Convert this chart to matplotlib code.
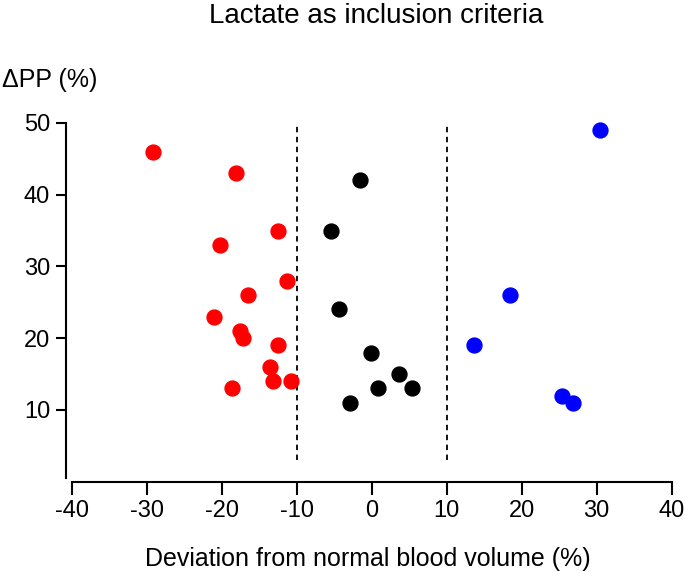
import matplotlib
matplotlib.use('Agg')
import matplotlib.pyplot as plt

plt.rcParams['font.family'] = ['Liberation Sans', 'DejaVu Sans']

# deviation from normal blood volume (%), delta PP (%)
red_x = [-29.2, -18.1, -12.5, -20.2, -11.3, -16.5, -21.0, -17.5, -17.1, -12.5, -13.5, -13.2, -10.8, -18.6]
red_y = [46, 43, 35, 33, 28, 26, 23, 21, 20, 19, 16, 14, 14, 13]

black_x = [-1.6, -5.4, -4.4, -0.1, 3.6, 0.8, 5.4, -2.9]
black_y = [42, 35, 24, 18, 15, 13, 13, 11]

blue_x = [30.5, 18.5, 13.6, 25.4, 26.8]
blue_y = [49, 26, 19, 12, 11]

cutoffs = [-10, 10]
xticks = list(range(-40, 41, 10))
yticks = [10, 20, 30, 40, 50]

fig = plt.figure(figsize=(6.85, 5.72), dpi=100)
ax = fig.add_axes([0.1045, 0.158, 0.876, 0.627])

ax.scatter(red_x, red_y, s=115, color='#ff0000', clip_on=False, zorder=3)
ax.scatter(black_x, black_y, s=115, color='black', clip_on=False, zorder=3)
ax.scatter(blue_x, blue_y, s=115, color='#0000ff', clip_on=False, zorder=3)

for c in cutoffs:
    ax.plot([c, c], [3, 50], color='black', ls=(0, (3, 2.5)), lw=1.3, zorder=2)

ax.set_xlim(-40, 40)
ax.set_ylim(0, 50)
ax.set_xticks(xticks)
ax.set_yticks(yticks)
ax.set_xticklabels([str(t) for t in xticks])

for s in ['top', 'right']:
    ax.spines[s].set_visible(False)
ax.spines['left'].set_bounds(0.5, 50)
ax.spines['left'].set_position(('outward', 4))
for s in ['left', 'bottom']:
    ax.spines[s].set_linewidth(1.5)

ax.tick_params(axis='x', length=9.5, width=1.5, labelsize=17, pad=3.5)
ax.tick_params(axis='y', length=7.2, width=1.5, labelsize=17, pad=4.3)

fig.text(0.5365, 0.0105, 'Deviation from normal blood volume (%)', fontsize=18,
         va='baseline', ha='center')
fig.text(0.003, 0.860, 'ΔPP (%)', fontsize=18, va='center', ha='left')
fig.text(0.549, 0.972, 'Lactate as inclusion criteria', fontsize=20, va='center', ha='center')

fig.savefig('out.png', dpi=100)
